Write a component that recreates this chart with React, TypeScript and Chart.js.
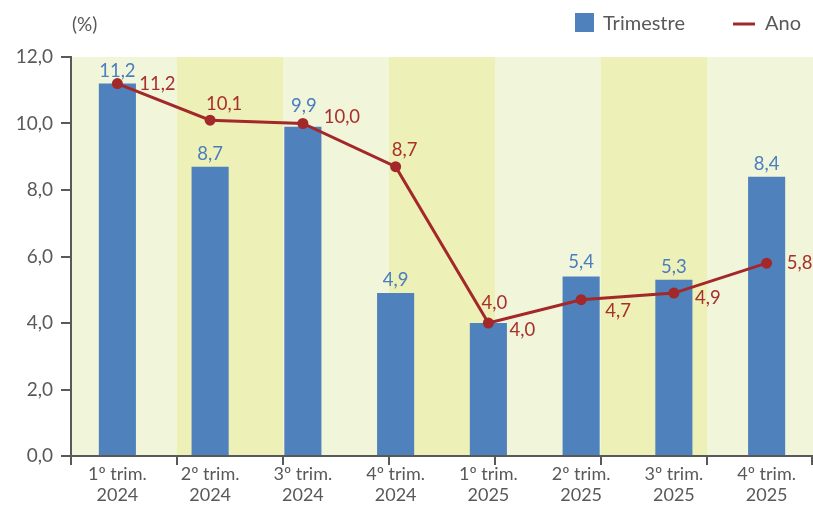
import React, { useEffect, useRef } from 'react';
import { Chart, registerables } from 'chart.js';

Chart.register(...registerables);

const categories: string[][] = [
  ['1º trim.', '2024'],
  ['2º trim.', '2024'],
  ['3º trim.', '2024'],
  ['4º trim.', '2024'],
  ['1º trim.', '2025'],
  ['2º trim.', '2025'],
  ['3º trim.', '2025'],
  ['4º trim.', '2025'],
];
const trimestre = [11.2, 8.7, 9.9, 4.9, 4.0, 5.4, 5.3, 8.4];
const ano = [11.2, 10.1, 10.0, 8.7, 4.0, 4.7, 4.9, 5.8];
const yMin = 0;
const yMax = 12;
const yStep = 2;
const seriesNames = ['Trimestre', 'Ano'];
const unitLabel = '(%)';

// styling
const FONT = 'Lato, "Open Sans", sans-serif';
const BLUE = '#4F81BD';
const BLUE_TXT = '#4A7EBF';
const RED = '#A3282A';
const RED_TXT = '#A8302C';
const AXIS = '#595959';
const BAND_LIGHT = '#F1F5DA';
const BAND_DARK = '#EDF0B7';
const BAND_COUNT = 7;
const barLabelColors = [BLUE_TXT, BLUE_TXT, BLUE_TXT, BLUE_TXT, RED_TXT, BLUE_TXT, BLUE_TXT, BLUE_TXT];
const barLabelOffsets: [number, number][] = [
  [0, -13], [0, -13], [1, -21], [0, -13], [6, -20], [0, -14], [0, -13], [0, -13],
];
const lineLabelOffsets: [number, number][] = [
  [40, 0], [14, -16], [39, -6], [9, -17], [34, 7], [37, 11], [34, 5], [33, 0],
];

const fmt = (v: number) => v.toFixed(1).replace('.', ',');

const decoPlugin = {
  id: 'deco',
  beforeDraw(chart: any) {
    const { ctx, chartArea } = chart;
    const w = (chartArea.right - chartArea.left) / BAND_COUNT;
    ctx.save();
    for (let i = 0; i < BAND_COUNT; i++) {
      ctx.fillStyle = i % 2 === 0 ? BAND_LIGHT : BAND_DARK;
      const x0 = Math.round(chartArea.left + i * w);
      const x1 = Math.round(chartArea.left + (i + 1) * w);
      ctx.fillRect(x0, chartArea.top, x1 - x0, chartArea.bottom - chartArea.top);
    }
    ctx.restore();
  },
  afterDraw(chart: any) {
    const { ctx, chartArea } = chart;
    const w = (chartArea.right - chartArea.left) / BAND_COUNT;
    ctx.save();
    // x tick marks at band boundaries
    ctx.strokeStyle = AXIS;
    ctx.lineWidth = 2;
    for (let i = 0; i <= BAND_COUNT; i++) {
      let x = Math.round(chartArea.left + i * w);
      if (i === BAND_COUNT) x -= 1;
      ctx.beginPath();
      ctx.moveTo(x, chartArea.bottom);
      ctx.lineTo(x, chartArea.bottom + 9);
      ctx.stroke();
    }
    // data labels
    ctx.font = `18.5px ${FONT}`;
    ctx.textAlign = 'center';
    ctx.textBaseline = 'middle';
    const barMeta = chart.getDatasetMeta(0);
    barMeta.data.forEach((el: any, i: number) => {
      const [dx, dy] = barLabelOffsets[i];
      ctx.fillStyle = barLabelColors[i];
      ctx.fillText(fmt(trimestre[i]), el.x + dx, el.y + dy);
    });
    const lineMeta = chart.getDatasetMeta(1);
    lineMeta.data.forEach((el: any, i: number) => {
      const [dx, dy] = lineLabelOffsets[i];
      ctx.fillStyle = RED_TXT;
      ctx.fillText(fmt(ano[i]), el.x + dx, el.y + dy);
    });
    // unit label
    ctx.fillStyle = AXIS;
    ctx.textAlign = 'left';
    ctx.font = `19px ${FONT}`;
    ctx.fillText(unitLabel, chartArea.left + 1, 25);
    // legend
    const lx = chartArea.right - 238;
    ctx.fillStyle = BLUE;
    ctx.fillRect(lx, 13, 19, 19);
    ctx.fillStyle = AXIS;
    ctx.font = `20px ${FONT}`;
    ctx.fillText(seriesNames[0], lx + 28, 24);
    ctx.strokeStyle = RED;
    ctx.lineWidth = 3;
    ctx.beginPath();
    ctx.moveTo(lx + 158, 24);
    ctx.lineTo(lx + 180, 24);
    ctx.stroke();
    ctx.fillText(seriesNames[1], lx + 190, 24);
    ctx.restore();
  },
};

export default function App() {
  const ref = useRef<HTMLCanvasElement>(null);
  useEffect(() => {
    document.body.style.margin = '0';
    if (!ref.current) return;
    const chart = new Chart(ref.current, {
      type: 'bar',
      data: {
        labels: categories,
        datasets: [
          {
            type: 'bar',
            label: seriesNames[0],
            data: trimestre,
            backgroundColor: BLUE,
            borderWidth: 0,
            barPercentage: 0.4,
            categoryPercentage: 1,
            order: 2,
          },
          {
            type: 'line',
            label: seriesNames[1],
            data: ano,
            borderColor: RED,
            backgroundColor: RED,
            borderWidth: 3,
            pointRadius: 5.5,
            pointBackgroundColor: RED,
            pointBorderWidth: 0,
            tension: 0,
            order: 1,
          } as any,
        ],
      },
      options: {
        responsive: false,
        animation: false,
        layout: { autoPadding: false, padding: { top: 57, right: 0, left: 0, bottom: 0 } },
        plugins: { legend: { display: false }, tooltip: { enabled: false } },
        scales: {
          x: {
            grid: { display: false, drawTicks: false },
            border: { display: true, color: AXIS, width: 2 },
            ticks: {
              color: AXIS,
              font: { family: FONT, size: 18, lineHeight: 1.15 },
              padding: 8,
              maxRotation: 0,
              autoSkip: false,
            },
            afterFit: (s: any) => { s.height = 49; },
          },
          y: {
            min: yMin,
            max: yMax,
            grid: {
              drawOnChartArea: false,
              drawTicks: true,
              tickLength: 10,
              color: AXIS,
              lineWidth: 2,
            },
            border: { display: true, color: AXIS, width: 2 },
            ticks: {
              stepSize: yStep,
              color: AXIS,
              font: { family: FONT, size: 19 },
              padding: 8,
              callback: (v: any) => fmt(Number(v)),
            },
            afterFit: (s: any) => { s.width = 71; },
          },
        },
      },
      plugins: [decoPlugin],
    });
    return () => chart.destroy();
  }, []);
  return (
    <div style={{ width: 813, height: 505 }}>
      <canvas ref={ref} width={813} height={505} style={{ display: 'block' }} />
    </div>
  );
}
